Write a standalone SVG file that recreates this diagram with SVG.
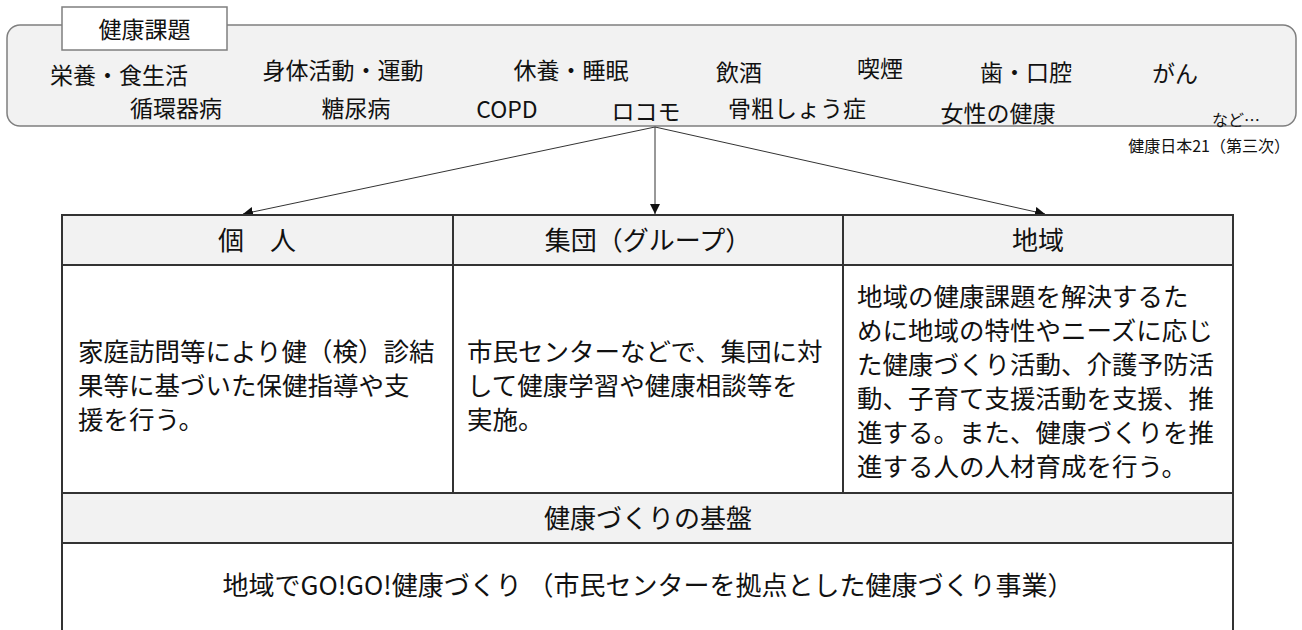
<svg xmlns="http://www.w3.org/2000/svg" width="1302" height="630" viewBox="0 0 1302 630">
<style>
text{font-family:"Noto Sans CJK JP","Noto Sans",sans-serif;fill:#111}
.t{font-size:23px;text-anchor:middle}
.s{font-size:16px}
.h{font-size:26px;text-anchor:middle}
.b{font-size:25.5px}
.cell{stroke:#333;stroke-width:2}
.conn{stroke:#333;stroke-width:1;fill:none}
</style>
<defs>
<marker id="ah" viewBox="0 0 10 10" refX="10" refY="5" markerWidth="10" markerHeight="10" markerUnits="userSpaceOnUse" orient="auto">
<path d="M0,0L10,5L0,10z" fill="#111"/>
</marker>
</defs>
<g id="issues">
<rect x="7" y="25" width="1289" height="101" rx="13" fill="#f2f2f2" stroke="#7f7f7f" stroke-width="1.5"/>
<rect x="62" y="7" width="165" height="43" fill="#fff" stroke="#7f7f7f" stroke-width="1.5"/>
<text class="t" x="144.5" y="38">健康課題</text>
<text class="t" x="119" y="84">栄養・食生活</text>
<text class="t" x="343" y="79">身体活動・運動</text>
<text class="t" x="571" y="79">休養・睡眠</text>
<text class="t" x="739" y="81">飲酒</text>
<text class="t" x="880" y="77">喫煙</text>
<text class="t" x="1026" y="81">歯・口腔</text>
<text class="t" x="1175" y="82">がん</text>
<text class="t" x="176" y="117">循環器病</text>
<text class="t" x="356" y="117">糖尿病</text>
<text class="t" x="507" y="118">COPD</text>
<text class="t" x="646" y="120">ロコモ</text>
<text class="t" x="797" y="117">骨粗しょう症</text>
<text class="t" x="998" y="122">女性の健康</text>
<text class="s" x="1236" y="126" text-anchor="middle">など…</text>
</g>
<g id="source">
<text class="s" x="1290" y="152" text-anchor="end">健康日本21（第三次）</text>
</g>
<g id="connectors">
<line class="conn" x1="655" y1="127" x2="243" y2="214" marker-end="url(#ah)"/>
<line class="conn" x1="655" y1="127" x2="655" y2="214" marker-end="url(#ah)"/>
<line class="conn" x1="655" y1="127" x2="1045" y2="214" marker-end="url(#ah)"/>
</g>
<g id="table">
<rect x="62" y="215" width="1171" height="50" fill="#f2f2f2"/>
<rect x="62" y="493" width="1171" height="50" fill="#f2f2f2"/>
<path class="cell" fill="none" d="M62,640V215H1233V640M62,265H1233M62,493H1233M62,543H1233M453,215V493M843,215V493"/>
</g>
<g id="individual">
<text class="h" x="257" y="250">個　人</text>
<text class="b" x="78" y="361">家庭訪問等により健（検）診結</text>
<text class="b" x="78" y="395">果等に基づいた保健指導や支</text>
<text class="b" x="78" y="429">援を行う。</text>
</g>
<g id="group">
<text class="h" x="648" y="250">集団（グループ）</text>
<text class="b" x="467" y="361">市民センターなどで、集団に対</text>
<text class="b" x="467" y="395">して健康学習や健康相談等を</text>
<text class="b" x="467" y="429">実施。</text>
</g>
<g id="community">
<text class="b" x="857" y="306">地域の健康課題を解決するた</text>
<text class="b" x="857" y="340">めに地域の特性やニーズに応じ</text>
<text class="b" x="857" y="374">た健康づくり活動、介護予防活</text>
<text class="b" x="857" y="408">動、子育て支援活動を支援、推</text>
<text class="b" x="857" y="442">進する。また、健康づくりを推</text>
<text class="b" x="857" y="476">進する人の人材育成を行う。</text>
<text class="h" x="1038" y="250">地域</text>
</g>
<g id="foundation">
<text class="h" x="648" y="528">健康づくりの基盤</text>
<text class="h" x="648" y="595">地域でGO!GO!健康づくり （市民センターを拠点とした健康づくり事業）</text>
</g>
</svg>
